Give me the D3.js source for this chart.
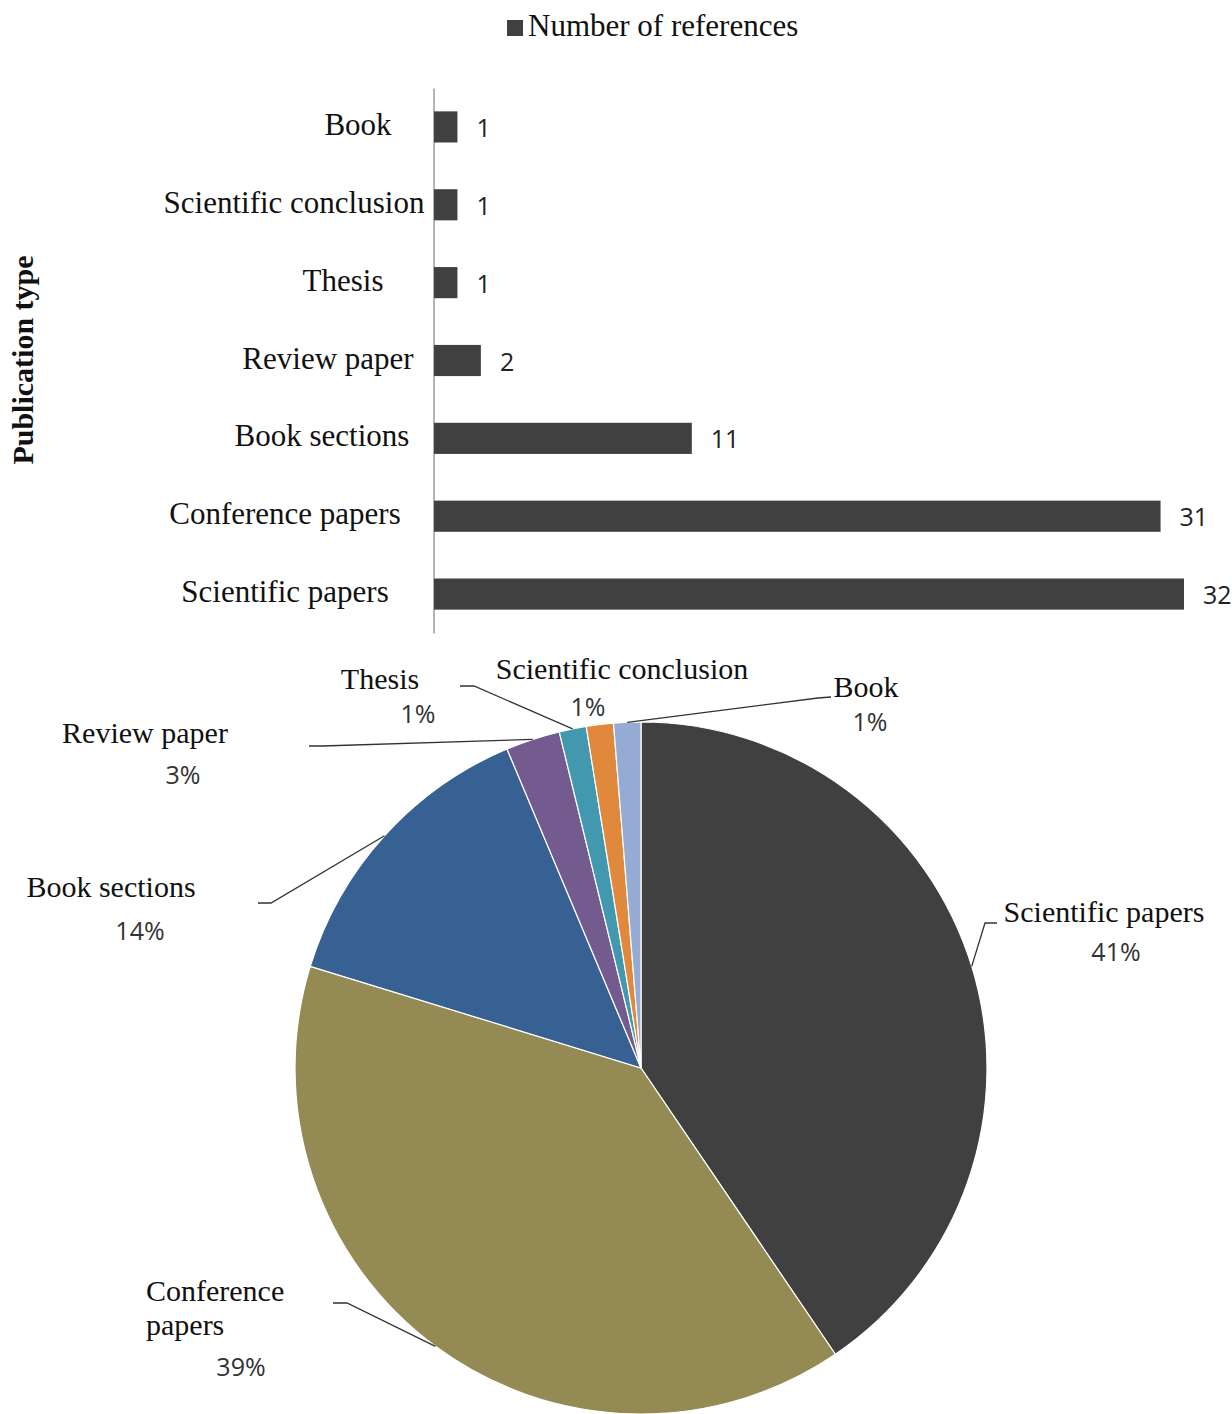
<!DOCTYPE html>
<html>
<head>
<meta charset="utf-8">
<script src="https://cdn.jsdelivr.net/npm/d3@7"></script>
<style>
  html, body { margin: 0; padding: 0; background: #fff; }
  svg { display: block; }
</style>
</head>
<body>
<svg id="chart" width="1232" height="1414"></svg>
<script>
// ---------- data ----------
const categories = ["Book", "Scientific conclusion", "Thesis", "Review paper", "Book sections", "Conference papers", "Scientific papers"];
const counts = [1, 1, 1, 2, 11, 31, 32];
const seriesName = "Number of references";
const axisTitle = "Publication type";
const sliceColors = ["#95abd3", "#e0883c", "#4198af", "#735a8f", "#376192", "#948a54", "#404040"];

// ---------- setup ----------
const svg = d3.select("#chart");
const serif = "'Liberation Serif', 'Times New Roman', serif";
const sans = "'Open Sans', 'Liberation Sans', sans-serif";

// ---------- legend ----------
svg.append("rect").attr("x", 507).attr("y", 20).attr("width", 16).attr("height", 16).attr("fill", "#404040");
svg.append("text").attr("x", 528).attr("y", 36).attr("font-family", serif).attr("font-size", 31)
  .attr("fill", "#111").text(seriesName);

// ---------- bar chart ----------
const x = d3.scaleLinear().domain([0, 32]).range([434, 1184]);
const y = d3.scaleBand().domain(categories).range([88, 633]).paddingInner(0.6).paddingOuter(0.3);

const yAxis = svg.append("g").attr("transform", "translate(433.5,0)")
  .call(d3.axisLeft(y).tickSize(0).tickFormat(""));
yAxis.select(".domain").attr("stroke", "#8c8c8c").attr("stroke-width", 1.3);

svg.append("g").selectAll("rect").data(categories).join("rect")
  .attr("x", x(0))
  .attr("y", d => y(d))
  .attr("width", (d, i) => x(counts[i]) - x(0))
  .attr("height", y.bandwidth())
  .attr("fill", "#404040");

svg.append("g").selectAll("text").data(categories).join("text")
  .attr("x", (d, i) => x(counts[i]) + 19)
  .attr("y", d => y(d) + y.bandwidth() / 2 + 10)
  .attr("font-family", sans).attr("font-size", 25).attr("fill", "#222")
  .text((d, i) => counts[i]);

// category labels (centred at individual positions as in the original)
const labelCentres = [358, 294, 343, 328, 322, 285, 285];
svg.append("g").selectAll("text").data(categories).join("text")
  .attr("x", (d, i) => labelCentres[i])
  .attr("y", d => y(d) + y.bandwidth() / 2 + 8)
  .attr("text-anchor", "middle")
  .attr("font-family", serif).attr("font-size", 31).attr("fill", "#111")
  .text(d => d);

svg.append("text")
  .attr("transform", "translate(33,360) rotate(-90)")
  .attr("text-anchor", "middle")
  .attr("font-family", serif).attr("font-size", 30).attr("font-weight", "bold").attr("fill", "#111")
  .text(axisTitle);

// ---------- pie chart ----------
const cx = 641, cy = 1068, R = 346;
const total = d3.sum(counts);
const pieData = categories.map((c, i) => ({ name: c, value: counts[i], color: sliceColors[i] })).reverse();
const pie = d3.pie().sort(null).value(d => d.value).startAngle(0).endAngle(2 * Math.PI);
const arcs = pie(pieData);
const arc = d3.arc().innerRadius(0).outerRadius(R);

const gPie = svg.append("g").attr("transform", `translate(${cx},${cy})`);
gPie.selectAll("path").data(arcs).join("path")
  .attr("d", arc)
  .attr("fill", d => d.data.color)
  .attr("stroke", "#fff").attr("stroke-width", 1.2);

const pct = d => Math.round(d.value / total * 100) + "%";

// label layout (text positions and leader start points)
const pieLayout = {
  "Scientific papers": { lines: ["Scientific papers"], anchor: "middle", tx: 1104, ty: 922, px: 1116, py: 961, leader: [[997, 923], [985, 923]] },
  "Conference papers": { lines: ["Conference", "papers"], anchor: "start", tx: 146, ty: 1301, px: 241, py: 1376, leader: [[333, 1303], [347, 1303]] },
  "Book sections": { lines: ["Book sections"], anchor: "middle", tx: 111, ty: 897, px: 140, py: 940, leader: [[258, 903], [271, 903]] },
  "Review paper": { lines: ["Review paper"], anchor: "middle", tx: 145, ty: 743, px: 183, py: 784, leader: [[309, 746], [322, 746]] },
  "Thesis": { lines: ["Thesis"], anchor: "middle", tx: 380, ty: 689, px: 418, py: 723, leader: [[460, 686], [474, 686]] },
  "Scientific conclusion": { lines: ["Scientific conclusion"], anchor: "middle", tx: 622, ty: 679, px: 588, py: 716, leader: null },
  "Book": { lines: ["Book"], anchor: "middle", tx: 866, ty: 697, px: 870, py: 731, leader: [[831, 697], [818, 698]] }
};

const gLab = svg.append("g");
arcs.forEach(a => {
  const L = pieLayout[a.data.name];
  const mid = (a.startAngle + a.endAngle) / 2;
  const ex = cx + R * Math.sin(mid), ey = cy - R * Math.cos(mid);
  if (L.leader) {
    gLab.append("path")
      .attr("d", d3.line()([...L.leader, [ex, ey]]))
      .attr("fill", "none").attr("stroke", "#333").attr("stroke-width", 1.3);
  }
  const t = gLab.append("text").attr("font-family", serif).attr("font-size", 30).attr("fill", "#111")
    .attr("text-anchor", L.anchor);
  L.lines.forEach((ln, k) => {
    t.append("tspan").attr("x", L.tx).attr("y", L.ty + k * 34).text(ln);
  });
  gLab.append("text").attr("x", L.px).attr("y", L.py).attr("text-anchor", "middle")
    .attr("font-family", sans).attr("font-size", 25).attr("fill", "#333")
    .text(pct(a.data));
});
</script>
</body>
</html>
